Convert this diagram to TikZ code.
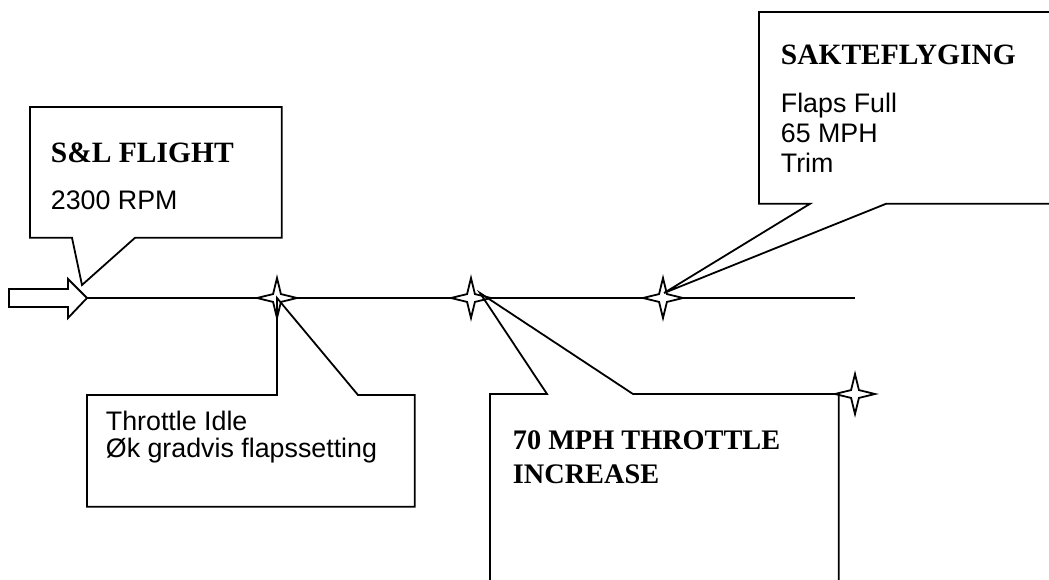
\documentclass[tikz,border=0pt]{standalone}
\usepackage{fontspec}
\setmainfont{Liberation Serif}
\setsansfont{Liberation Sans}
\usetikzlibrary{shapes.geometric}
\tikzset{
  glitter/.style={draw, fill=white, star, star points=4, star point ratio=3.6, minimum size=40pt, inner sep=0pt},
  calbox/.style={anchor=north west, inner sep=0pt},
  headtxt/.style={anchor=base west, inner sep=0pt, font=\bfseries\fontsize{29.5}{34}\selectfont},
  bodytxt/.style={anchor=base west, inner sep=0pt, font=\sffamily\fontsize{26.8}{30}\selectfont},
}

\begin{document}
\begin{tikzpicture}[x=1pt, y=-1pt, line width=1.8pt]
\useasboundingbox (0,0) rectangle (1049,580);
\clip (0,0) rectangle (1049,580);

% incoming arrow and time line
\draw (9,289) -- (68,289) -- (68,279) -- (87,298) -- (68,318) -- (68,307) -- (9,307) -- cycle;
\coordinate (start) at (87,298);
\coordinate (end) at (855,298);
\path[draw] (start) -- (end);

\node[glitter] (s1) at (277,298) {};
\node[glitter] (s2) at (471,298) {};
\node[glitter] (s3) at (663,298) {};

% callout tips
\coordinate (sltip) at (82,285);
\coordinate (mphtip) at (480,293);
\coordinate (sktip) at (664,293);

% boxes
\node[calbox, minimum width=250pt, minimum height=129pt] (slbox) at (30,107) {};
\node[calbox, minimum width=326pt, minimum height=110pt] (tlbox) at (87,395) {};
\node[calbox, minimum width=347pt, minimum height=250pt] (mphbox) at (490,394) {};
\node[calbox, minimum width=321pt, minimum height=190pt] (skbox) at (759,12) {};

\draw (slbox.south west) -- (slbox.north west) -- (slbox.north east) -- (slbox.south east)
  -- ([xshift=105pt]slbox.south west) -- (sltip) -- ([xshift=42pt]slbox.south west) -- cycle;
\draw (tlbox.north west) -- ([xshift=190pt]tlbox.north west) -- (s1.center)
  -- ([xshift=271pt]tlbox.north west) -- (tlbox.north east) -- (tlbox.south east) -- (tlbox.south west) -- cycle;
\draw (mphbox.north west) -- ([xshift=57pt]mphbox.north west) -- (mphtip)
  -- ([xshift=143pt]mphbox.north west) -- (mphbox.north east) -- (mphbox.south east) -- (mphbox.south west) -- cycle;
\draw (skbox.south west) -- (skbox.north west) -- (skbox.north east) -- (skbox.south east)
  -- ([xshift=127pt]skbox.south west) -- (sktip) -- ([xshift=51pt]skbox.south west) -- cycle;

\node[glitter] (s4) at (855,394) {};

% texts
\node[headtxt] (slhead) at (50,163) {S\&L FLIGHT};
\node[bodytxt] (slrpm) at (50,210) {2300 RPM};
\node[bodytxt] (tlidle) at (105,430) {Throttle Idle};
\node[bodytxt] (tlflap) at (105,457) {Øk gradvis flapssetting};
\node[headtxt, font=\bfseries\fontsize{28.3}{32}\selectfont] (mphone) at (512,449) {70 MPH THROTTLE};
\node[headtxt, font=\bfseries\fontsize{28.3}{32}\selectfont] (mphtwo) at (512,483) {INCREASE};
\node[headtxt] (skhead) at (780,65) {SAKTEFLYGING};
\node[bodytxt] (skflap) at (780,113) {Flaps Full};
\node[bodytxt] (skmph) at (780,143) {65 MPH};
\node[bodytxt] (sktrim) at (780,173) {Trim};
\end{tikzpicture}
\end{document}
